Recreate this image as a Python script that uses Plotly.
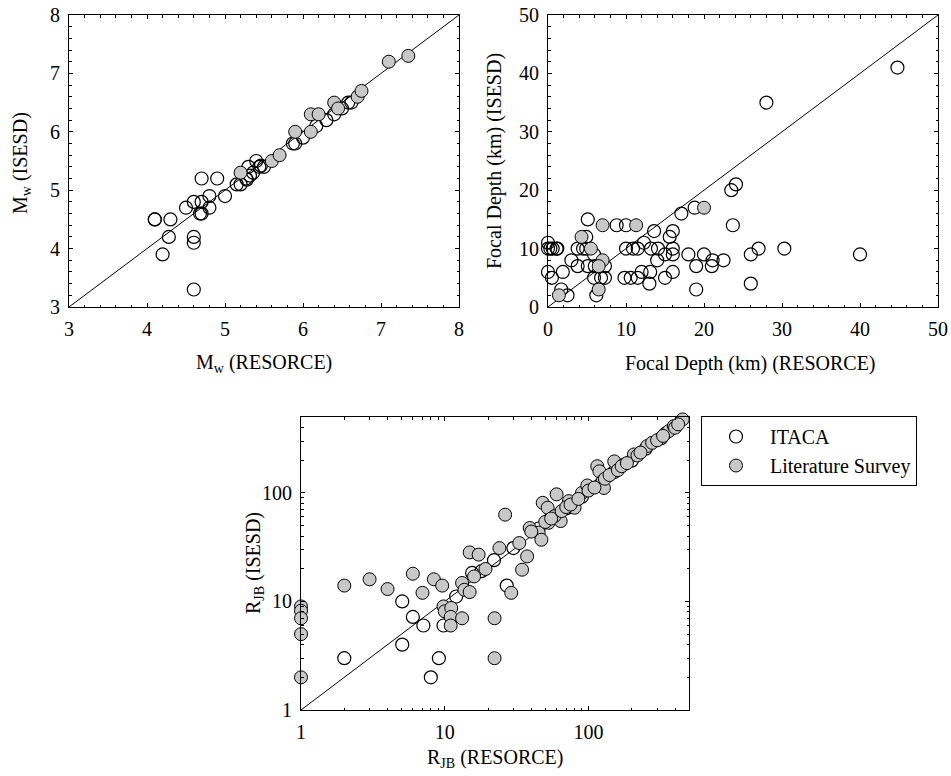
import math
import plotly.graph_objects as go

# ---------------- data ----------------
# Panel 1: Mw
mw_itaca_x = [4.10, 4.10, 4.30, 4.28, 4.20, 4.60, 4.60, 4.60, 4.50, 4.60, 4.70, 4.90, 4.70, 4.68, 4.70,
              4.80, 4.80, 5.00, 5.15, 5.20, 5.27, 5.30, 5.32, 5.36, 5.40, 5.44, 5.50, 5.28, 5.46, 5.87,
              5.90, 6.00, 6.17, 6.30, 6.40, 6.50, 6.58, 6.62]
mw_itaca_y = [4.50, 4.50, 4.50, 4.20, 3.90, 3.30, 4.20, 4.10, 4.70, 4.80, 5.20, 5.20, 4.80, 4.60, 4.60,
              4.70, 4.90, 4.90, 5.10, 5.10, 5.20, 5.40, 5.25, 5.30, 5.50, 5.40, 5.40, 5.18, 5.42, 5.80,
              5.80, 5.90, 6.10, 6.20, 6.30, 6.40, 6.50, 6.50]
mw_lit_x = [5.20, 5.60, 5.70, 5.90, 6.10, 6.10, 6.20, 6.40, 6.45, 6.70, 6.75, 7.10, 7.35]
mw_lit_y = [5.30, 5.50, 5.60, 6.00, 6.00, 6.30, 6.30, 6.50, 6.40, 6.60, 6.70, 7.20, 7.30]

# Panel 2: Focal depth (km)
fd_itaca_x = [44.8, 28.0, 23.5, 24.1, 23.7, 17.1, 18.8, 40.0, 30.3, 27.0, 26.0, 26.0, 22.5, 21.1, 21.0,
              20.0, 19.0, 19.0, 18.0, 16.0, 15.6, 16.0, 16.0, 16.0, 15.0, 15.0, 14.1, 14.0, 13.6, 13.0,
              13.1, 13.2, 12.3, 11.5, 10.9, 12.0, 11.5, 10.6, 9.8, 10.0, 10.0, 8.8, 7.3, 7.3, 6.2,
              5.9, 5.9, 5.1, 4.9, 4.9, 5.1, 3.8, 3.8, 3.0, 4.5, 1.9, 1.7, 2.5, 0.0, 0.0,
              0.0, 0.5, 0.6, 1.1, 1.2, 0.3, 6.0, 6.8]
fd_itaca_y = [41, 35, 20, 21, 14, 16, 17, 9, 10, 10, 9, 4, 8, 8, 7,
              9, 7, 3, 9, 13, 12, 10, 9, 6, 9, 5, 10, 8, 13, 4,
              6, 10, 11, 10, 10, 6, 5, 5, 5, 10, 14, 14, 7, 5, 2,
              5, 9, 15, 12, 10, 7, 10, 7, 8, 10, 6, 3, 2, 11, 10,
              6, 5, 10, 10, 10, 10, 7, 5]
fd_lit_x = [20.0, 11.3, 7.0, 4.3, 5.5, 7.0, 6.5, 6.5, 1.4]
fd_lit_y = [17, 14, 14, 12, 10, 8, 7, 3, 2]

# Panel 3: R_JB (km)
rjb_itaca_x = [2, 5.06, 5.06, 6, 7.1, 8, 9.1, 9.8, 12, 15.5, 27, 18, 22, 30, 45, 55, 70, 90,
               120, 150, 200, 250, 320]
rjb_itaca_y = [3, 10, 4, 7.2, 6, 2, 3, 6, 11.1, 18.3, 14, 19, 24, 31, 47, 60, 72, 92,
               118, 155, 198, 255, 318]
rjb_lit_x = [1, 1, 1, 1, 1, 2, 3, 4, 6, 7, 8.4, 9.6, 9.8, 10, 11.1, 11, 11, 13.2, 13.2, 13.7,
             14.9, 14.9, 17.2, 16, 19.2, 22.2, 22.2, 26.3, 24, 29, 34.5, 37.4, 33, 39, 45, 47,
             48, 52, 60, 64, 58, 52.7, 73, 80, 90, 98, 115, 119, 125, 128, 155, 151, 177, 207,
             219, 256, 277, 343, 362, 392, 400, 452,
             40, 50, 55, 65, 70, 75, 85, 100, 110, 130, 140, 160, 170, 185, 230, 300, 330, 420]
rjb_lit_y = [9, 8.2, 7, 5, 2, 14, 16, 13, 18, 12, 16, 14, 9, 8.1, 8.7, 7.2, 6.0, 7.0, 14.8, 12.8,
             12.2, 28.3, 27, 17, 19.9, 7, 3, 63, 31, 12, 19.6, 26, 34.5, 47.5, 43, 37,
             81, 73, 97, 55, 61, 53, 84, 73, 100, 117, 176, 158, 128, 111, 164, 195, 183, 226,
             221, 270, 289, 353, 371, 412, 398, 475,
             44, 54, 58, 68, 74, 78, 88, 105, 112, 135, 146, 162, 176, 188, 235, 305, 335, 428]

# reference lines (1:1)
mw_line = [3, 8]
fd_line = [0, 50]
rjb_line = [1, 500]

# ---------------- styling ----------------
FONT = "Liberation Serif, Times New Roman, serif"
FS = 20
GRAY = "#c8c8c8"
MSIZE = 13
W, H = 951, 776


def fx(p):
    return p / W


def fy(p):
    return 1 - p / H


fig = go.Figure()


def add_panel(xa, ya, line, ix, iy, lx, ly, show):
    fig.add_trace(go.Scatter(x=line, y=line, mode="lines", line=dict(color="black", width=1),
                             xaxis=xa, yaxis=ya, showlegend=False, hoverinfo="skip"))
    fig.add_trace(go.Scatter(x=ix, y=iy, mode="markers", name="ITACA", cliponaxis=False,
                             marker=dict(symbol="circle-open", size=MSIZE, color="black",
                                         line=dict(width=1.2, color="black")),
                             xaxis=xa, yaxis=ya, showlegend=show))
    fig.add_trace(go.Scatter(x=lx, y=ly, mode="markers", name="Literature Survey", cliponaxis=False,
                             marker=dict(symbol="circle", size=MSIZE, color=GRAY,
                                         line=dict(width=1, color="black")),
                             xaxis=xa, yaxis=ya, showlegend=show))


add_panel("x", "y", mw_line, mw_itaca_x, mw_itaca_y, mw_lit_x, mw_lit_y, False)
add_panel("x2", "y2", fd_line, fd_itaca_x, fd_itaca_y, fd_lit_x, fd_lit_y, False)
add_panel("x3", "y3", rjb_line, rjb_itaca_x, rjb_itaca_y, rjb_lit_x, rjb_lit_y, True)


def ax(domain, rng, dtick, minor_dtick, anchor, typ="linear"):
    return dict(domain=domain, range=rng, anchor=anchor, type=typ,
                showline=True, linecolor="black", linewidth=1, mirror="allticks",
                ticks="inside", ticklen=4, tickwidth=1, tickcolor="black",
                showgrid=False, zeroline=False, dtick=dtick,
                tickfont=dict(family=FONT, size=FS, color="black"),
                ticklabelstandoff=4, ticklabeloverflow="allow",
                minor=dict(ticks="inside", ticklen=2.5, tickwidth=1, tickcolor="black",
                           dtick=minor_dtick, showgrid=False),
                automargin=False)


lay = dict(width=W, height=H, margin=dict(l=0, r=0, t=0, b=0),
           plot_bgcolor="white", paper_bgcolor="white",
           font=dict(family=FONT, size=FS, color="black"))

lay["xaxis"] = ax([fx(69), fx(459)], [3, 8], 1, 0.2, "y")
lay["yaxis"] = ax([fy(307), fy(15)], [3, 8], 1, 0.2, "x")
lay["xaxis2"] = ax([fx(548), fx(938)], [0, 50], 10, 2, "y2")
lay["yaxis2"] = ax([fy(307), fy(15)], [0, 50], 10, 2, "x2")
lay["xaxis3"] = ax([fx(301), fx(689)], [0, math.log10(500)], 1, "D1", "y3", "log")
lay["yaxis3"] = ax([fy(710), fy(417)], [0, math.log10(500)], 1, "D1", "x3", "log")

lay["legend"] = dict(x=fx(701), y=fy(416), xanchor="left", yanchor="top",
                     bordercolor="black", borderwidth=1, bgcolor="white",
                     font=dict(family=FONT, size=FS, color="black"),
                     itemwidth=58, entrywidth=160, tracegroupgap=0)

fig.update_layout(**lay)


def title(text, xc, yc, rot=0):
    fig.add_annotation(text=text, x=fx(xc), y=fy(yc), xref="paper", yref="paper",
                       showarrow=False, textangle=rot, xanchor="center", yanchor="middle",
                       font=dict(family=FONT, size=FS, color="black"))


title("M<sub>w</sub> (RESORCE)", 264, 363)
title("M<sub>w</sub> (ISESD)", 21, 163, -90)
title("Focal Depth (km) (RESORCE)", 750, 363)
title("Focal Depth (km) (ISESD)", 494, 161, -90)
title("R<sub>JB</sub> (RESORCE)", 495, 758)
title("R<sub>JB</sub> (ISESD)", 254, 563, -90)

# remove the default page margin so that the 951x776 figure fills the window exactly
fig.write_html("out.html", config={"displayModeBar": False},
               post_script="document.body.style.margin='0';document.body.style.overflow='hidden';")
